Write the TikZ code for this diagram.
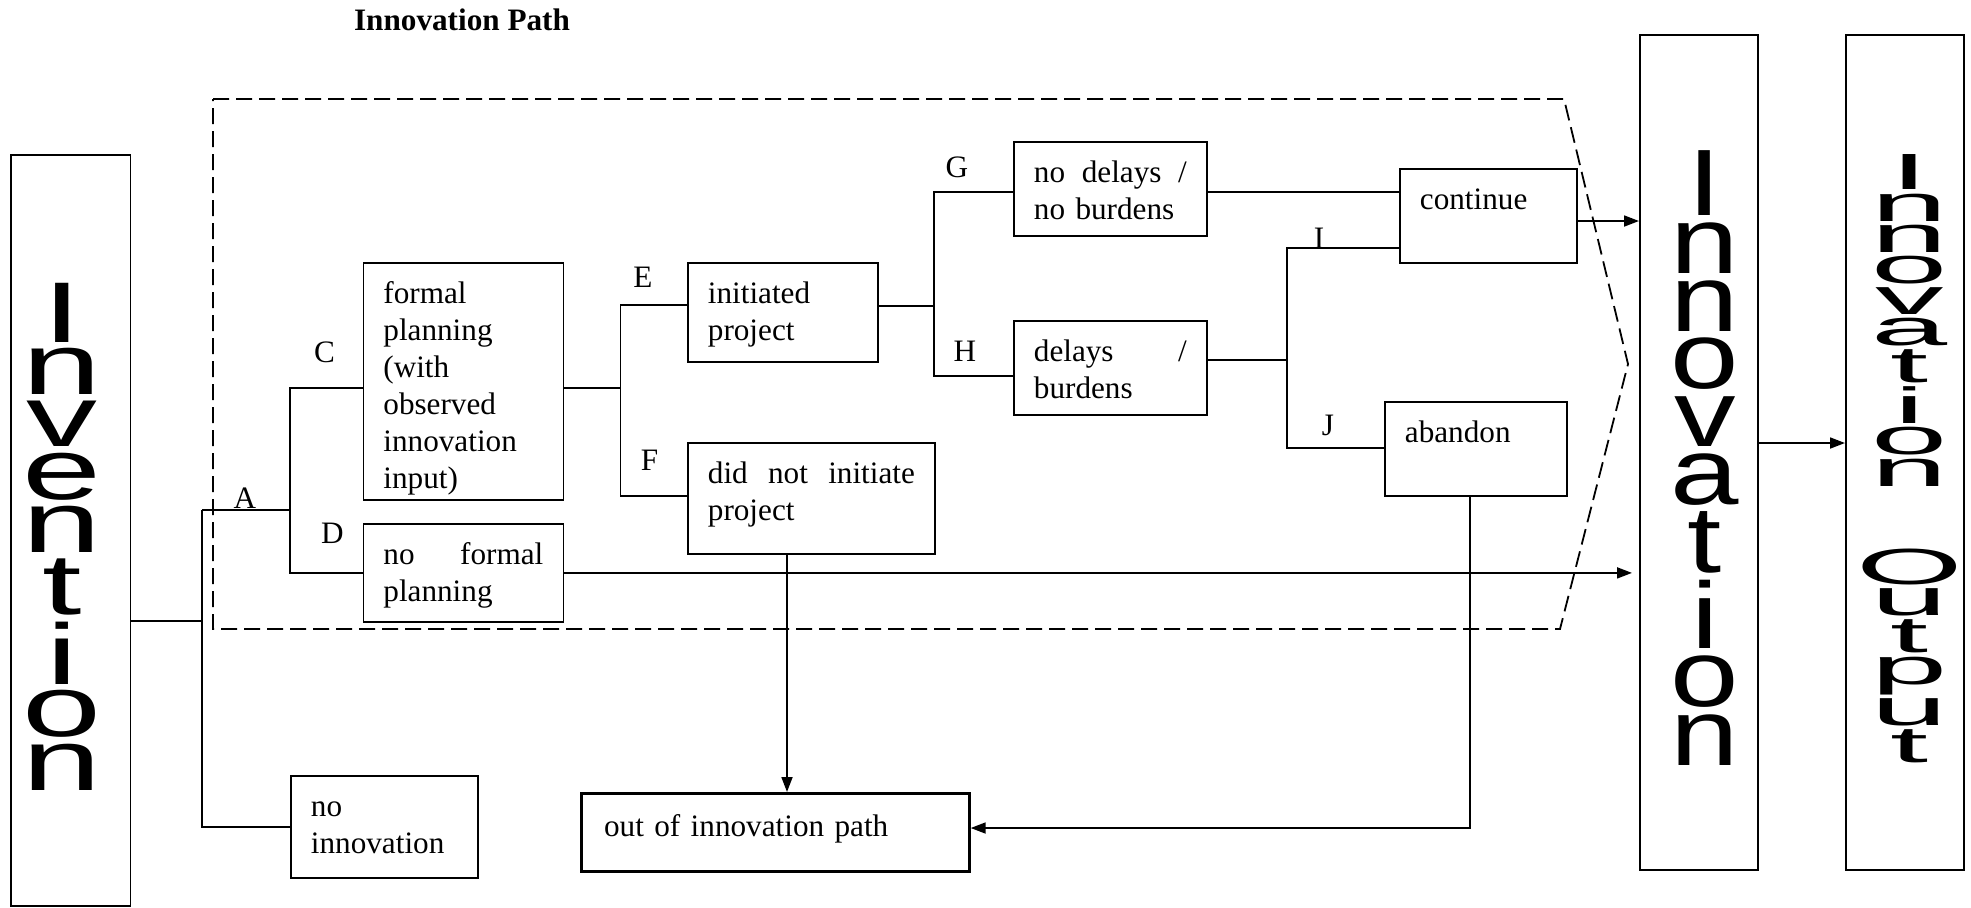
\documentclass[tikz,border=0pt]{standalone}
\usepackage{fontspec}
\setmainfont{Liberation Serif}
\newfontfamily\arialfont{Liberation Sans}
\usetikzlibrary{arrows.meta}

\tikzset{every picture/.style={line width=0.9pt}}
\tikzset{
	pathbox/.style={draw, anchor=north west, align=left, inner xsep=10pt, inner ysep=0pt, text height=20.5pt, font=\fontsize{15.6}{18.5}\selectfont},
	tag/.style={inner sep=0pt, font=\fontsize{15.6}{18.5}\selectfont},
	bigbox/.style={draw, anchor=north west, inner sep=0pt},
	vword/.style={inner sep=0pt, font=\arialfont\fontsize{41}{41}\selectfont},
	arr/.style={-{Triangle[length=7.5pt,width=5.5pt]}}}

\begin{document}
\begin{tikzpicture}[x=0.5pt,y=0.5pt,yscale=-1,xscale=1]
	\useasboundingbox (0,0) rectangle (1971,907);

	% Text Node
	\node[inner sep=0pt, font=\bfseries\fontsize{15.6}{18}\selectfont] (title) at (462,20) {Innovation Path};

	%Shape: Rectangle
	\node[bigbox, minimum width=59.75pt, minimum height=375.5pt] (inv) at (10,154) {};
	\node[vword] (invtxt) at (62,536.5) {\scalebox{1.73}[1.05]{\shortstack{I\\n\\v\\e\\n\\t\\i\\o\\n}}};
	%Shape: Rectangle
	\node[bigbox, minimum width=59pt, minimum height=417.5pt] (innov) at (1639,34) {};
	\node[vword] (innovtxt) at (1705,458) {\scalebox{1.5}[1.15]{\shortstack{I\\n\\n\\o\\v\\a\\t\\i\\o\\n}}};
	%Shape: Rectangle
	\node[bigbox, minimum width=59pt, minimum height=417.5pt] (outp) at (1845,34) {};
	\node[vword] (outptxt) at (1910,459) {\scalebox{1.67}[0.62]{\shortstack{I\\n\\n\\o\\v\\a\\t\\i\\o\\n\\[48pt]O\\u\\t\\p\\u\\t}}};

	%Shape: Polygon (dashed)
	\draw[dash pattern=on 8pt off 3.5pt] (213,99) -- (1564,99) -- (1628,364) -- (1560,629) -- (213,629) -- cycle;

	%Shape: Rectangle
	\node[pathbox, text width=80pt, text depth=98pt] (formal) at (362.5,262) {formal\\planning\\(with\\observed\\innovation\\input)};
	\node[pathbox, text width=80pt, text depth=28.5pt] (nofp) at (362.5,523) {no\hfill formal\\planning};
	\node[pathbox, text width=73.5pt, text depth=30.5pt] (noinno) at (290,775) {no\\innovation};
	\node[pathbox, text width=75pt, text depth=29pt] (init) at (687,262) {initiated\\project};
	\node[pathbox, text width=103.5pt, text depth=35pt] (dnp) at (687,442) {did\hfill not\hfill initiate\\project};
	\node[pathbox, text width=76.5pt, text depth=26.5pt] (nodel) at (1013,141) {no\hfill delays\hfill /\\no burdens};
	\node[pathbox, text width=76.5pt, text depth=26.5pt] (del) at (1013,320) {delays\hfill /\\burdens};
	\node[pathbox, text width=68.5pt, text depth=26.5pt] (cont) at (1399,168) {continue};
	\node[pathbox, text width=71pt, text depth=26.5pt] (aband) at (1384,401) {abandon};
	\node[pathbox, line width=1.6pt, inner xsep=11.5pt, text width=171pt, text height=21.5pt, text depth=17.5pt] (out) at (579.5,792) {out of innovation path};

	% Text Node
	\node[tag] (lA) at (245,498) {A};
	\node[tag] (lC) at (324.5,352) {C};
	\node[tag] (lD) at (332.5,533) {D};
	\node[tag] (lE) at (643,277) {E};
	\node[tag] (lF) at (649.5,460) {F};
	\node[tag] (lG) at (957,167) {G};
	\node[tag] (lH) at (965,351) {H};
	\node[tag] (lI) at (1319,238) {I};
	\node[tag] (lJ) at (1328,425) {J};

	%Straight Lines
	\coordinate (jInv) at (202,621);
	\coordinate (jA) at (202,510);
	\coordinate (jCD) at (290,510);
	\coordinate (jC) at (290,388);
	\coordinate (jEF) at (620.5,388);
	\coordinate (jE) at (620.5,305);
	\coordinate (jF) at (620.5,496);
	\coordinate (jGH) at (934,306);
	\coordinate (jG) at (934,192);
	\coordinate (jH) at (934,376);
	\coordinate (jIJ) at (1287,360);
	\coordinate (jI) at (1287,248);
	\coordinate (jJ) at (1287,448);
	\coordinate (jCont) at (1576,221);
	\coordinate (jDown) at (787,553);
	\coordinate (jBack) at (1470,828);
	\coordinate (jOut) at (1800,443);

	\draw (inv.east |- jInv) -- (jInv);
	\draw (jA) -- (jA |- noinno.west) -- (noinno.west);
	\draw (jA) -- (jCD);
	\draw (formal.west |- jC) -- (jC) -- (jC |- nofp.west) -- (nofp.west);
	\draw (formal.east |- jEF) -- (jEF);
	\draw (init.west |- jE) -- (jE) -- (jF) -- (dnp.west |- jF);
	\draw (init.east |- jGH) -- (jGH);
	\draw (nodel.west |- jG) -- (jG) -- (jH) -- (del.west |- jH);
	\draw (nodel.east |- jG) -- (cont.west |- jG);
	\draw (del.east |- jIJ) -- (jIJ);
	\draw (cont.west |- jI) -- (jI) -- (jJ) -- (aband.west |- jJ);

	%Arrows
	\draw[arr] (cont.east |- jCont) -- (innov.west |- jCont);
	\draw[arr, shorten >=3.5pt] (nofp.east) -- (nofp.east -| innov.west);
	\draw[arr] (dnp.south -| jDown) -- (out.north -| jDown);
	\draw[arr] (aband.south -| jBack) -- (jBack) -- (out.east |- jBack);
	\draw[arr] (innov.east |- jOut) -- (outp.west |- jOut);

\end{tikzpicture}
\end{document}
